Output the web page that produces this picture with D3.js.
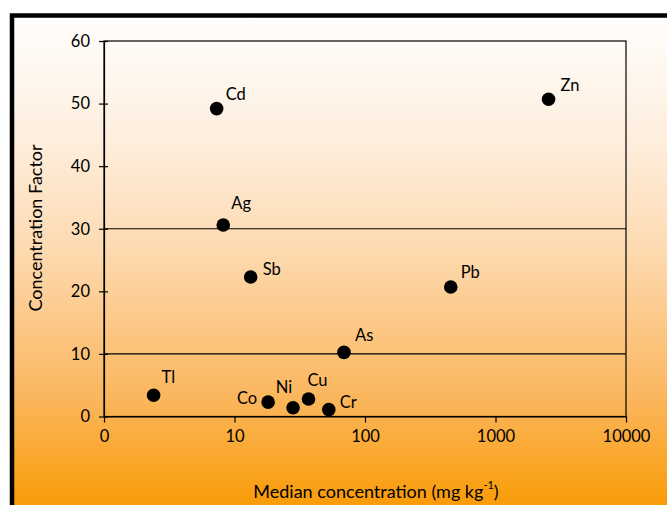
<!DOCTYPE html>
<html>
<head>
<meta charset="utf-8">
<script src="https://cdn.jsdelivr.net/npm/d3@7"></script>
<style>
html,body{margin:0;padding:0;background:#fff;}
svg{display:block;font-family:Lato,"Open Sans",sans-serif;}
</style>
</head>
<body>
<svg id="chart" width="667" height="505"></svg>
<script>
// ---- data ----
const elements = ["Cd","Zn","Ag","Sb","Pb","As","Tl","Co","Ni","Cu","Cr"];
const medianConc = [7.3, 2550, 8.2, 13.3, 454, 69, 2.4, 18.1, 28.1, 36.9, 52.8];
const concFactor = [49.2, 50.7, 30.6, 22.3, 20.7, 10.25, 3.4, 2.3, 1.4, 2.8, 1.1];
const xTickValues = [1, 10, 100, 1000, 10000];
const xTickLabels = ["0", "10", "100", "1000", "10000"];
const yTickValues = [0, 10, 20, 30, 40, 50, 60];
const refLines = [10, 30];
// label placement (dx, dy in px, anchor) — style only
const labelOffsets = [
  [9,-15,"start"],[12,-14,"start"],[8,-22,"start"],[12,-8,"start"],[10,-15,"start"],
  [11,-17,"start"],[8,-18,"start"],[-11,-4,"end"],[-9,-21,"middle"],[9,-19,"middle"],[11,-8,"start"]
];

const svg = d3.select("#chart");
const defs = svg.append("defs");
const grad = defs.append("linearGradient").attr("id","bg")
  .attr("x1",0).attr("y1",0).attr("x2",0).attr("y2",1);
[[0,"#fffefd"],[0.25,"#feeedd"],[0.45,"#fddcb5"],[0.75,"#fbb862"],[1,"#f99900"]]
  .forEach(([o,c]) => grad.append("stop").attr("offset",o).attr("stop-color",c));

// frame with gradient, extending beyond viewport
svg.append("rect").attr("x",12).attr("y",15.5).attr("width",700).attr("height",500)
  .attr("fill","url(#bg)").attr("stroke","#000").attr("stroke-width",4.5);

const x = d3.scaleLog().domain([1,10000]).range([104,626]);
const y = d3.scaleLinear().domain([0,60]).range([416.5,41]);

// plot box
svg.append("rect").attr("x",x(1)).attr("y",y(60))
  .attr("width",x(10000)-x(1)).attr("height",y(0)-y(60))
  .attr("fill","none").attr("stroke","#000").attr("stroke-width",1.2);

// reference lines
svg.selectAll("line.ref").data(refLines).join("line").attr("class","ref")
  .attr("x1",x(1)).attr("x2",x(10000)).attr("y1",d=>y(d)).attr("y2",d=>y(d))
  .attr("stroke","#000").attr("stroke-width",1.2);

// y axis
const yAxis = svg.append("g").attr("transform",`translate(${x(1)},0)`)
  .call(d3.axisLeft(y).tickValues(yTickValues).tickSize(5).tickSizeOuter(0).tickPadding(9));
yAxis.select(".domain").attr("stroke","#000").attr("stroke-width",1.2);
yAxis.selectAll(".tick line").attr("x2",-5).attr("x1",4).attr("stroke","#000").attr("stroke-width",1.2);
yAxis.selectAll(".tick text").attr("font-size",16.5).attr("fill","#000").attr("font-family","Lato");

// x axis
const xAxis = svg.append("g").attr("transform",`translate(0,${y(0)})`)
  .call(d3.axisBottom(x).tickValues(xTickValues).tickFormat((d,i)=>xTickLabels[i])
    .tickSize(6).tickSizeOuter(0).tickPadding(8));
xAxis.select(".domain").attr("stroke","#000").attr("stroke-width",1.2);
xAxis.selectAll(".tick line").attr("stroke","#000").attr("stroke-width",1.2);
xAxis.selectAll(".tick text").attr("font-size",16.5).attr("fill","#000").attr("font-family","Lato");

// points
const pts = elements.map((e,i)=>({e, x:medianConc[i], y:concFactor[i], o:labelOffsets[i]}));
svg.selectAll("circle.pt").data(pts).join("circle").attr("class","pt")
  .attr("cx",d=>x(d.x)).attr("cy",d=>y(d.y)).attr("r",6.8).attr("fill","#000");
svg.selectAll("text.lbl").data(pts).join("text").attr("class","lbl")
  .attr("x",d=>x(d.x)+d.o[0]).attr("y",d=>y(d.y)+d.o[1])
  .attr("text-anchor",d=>d.o[2]).attr("dominant-baseline","central")
  .attr("font-size",16.5).attr("fill","#000").text(d=>d.e);

// axis titles
const xt = svg.append("text").attr("x",376).attr("y",491).attr("text-anchor","middle")
  .attr("dominant-baseline","central").attr("font-size",18).attr("fill","#000");
xt.append("tspan").text("Median concentration (mg kg");
xt.append("tspan").attr("font-size",11).attr("dy",-7).text("-1");
xt.append("tspan").attr("dy",7).text(")");

svg.append("text").attr("transform","translate(35,228) rotate(-90)")
  .attr("text-anchor","middle").attr("dominant-baseline","central")
  .attr("font-size",18).attr("fill","#000").text("Concentration Factor");
</script>
</body>
</html>
